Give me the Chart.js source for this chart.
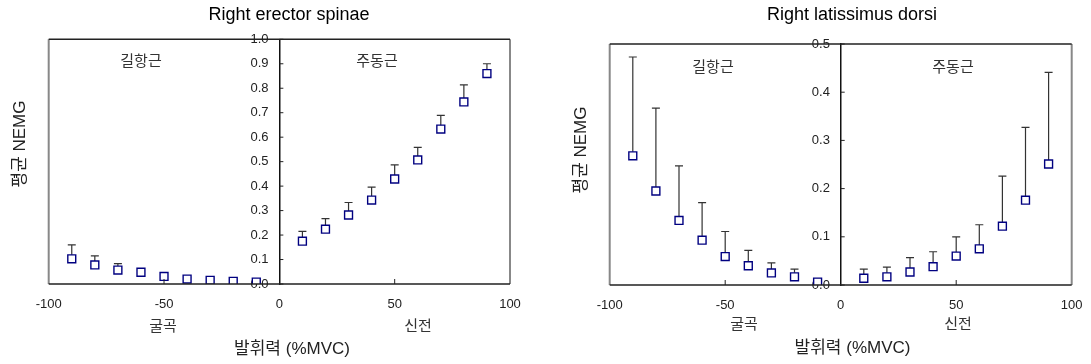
<!DOCTYPE html>
<html>
<head>
<meta charset="utf-8">
<script src="https://cdn.jsdelivr.net/npm/chart.js@4"></script>
<style>
  body { margin: 0; background: #fff; }
  #wrap { display: flex; width: 1091px; height: 364px; }
  canvas { display: block; }
</style>
</head>
<body>
<div id="wrap">
  <canvas id="es" width="545" height="364"></canvas>
  <canvas id="ld" width="546" height="364"></canvas>
</div>
<script>
// force levels (%MVC), flexion negative, extension positive
const force = [-90, -80, -70, -60, -50, -40, -30, -20, -10, 10, 20, 30, 40, 50, 60, 70, 80, 90];

// Right erector spinae: mean NEMG and mean + SD
const esMean  = [0.103, 0.078, 0.057, 0.048, 0.031, 0.020, 0.015, 0.011, 0.008, 0.175, 0.224, 0.282, 0.343, 0.429, 0.507, 0.633, 0.744, 0.860];
const esUpper = [0.160, 0.115, 0.083, 0.055, 0.040, 0.026, 0.020, 0.016, 0.012, 0.215, 0.267, 0.333, 0.396, 0.487, 0.558, 0.689, 0.814, 0.900];

// Right latissimus dorsi
const ldMean  = [0.268, 0.195, 0.134, 0.093, 0.059, 0.040, 0.025, 0.017, 0.006, 0.014, 0.017, 0.027, 0.038, 0.060, 0.075, 0.122, 0.176, 0.251];
const ldUpper = [0.473, 0.367, 0.247, 0.171, 0.111, 0.072, 0.046, 0.033, 0.012, 0.033, 0.037, 0.057, 0.069, 0.100, 0.125, 0.226, 0.327, 0.441];

const FONT = "'Liberation Sans', Arial, 'Noto Sans CJK KR', sans-serif";

// draws upper error bars under the markers
const errorBars = {
  id: "errorBars",
  beforeDatasetsDraw(chart, args, opts) {
    const { ctx, scales } = chart;
    const upper = opts.upper || [];
    const data = chart.data.datasets[0].data;
    ctx.save();
    ctx.strokeStyle = "#333";
    ctx.lineWidth = 1.2;
    for (let i = 0; i < data.length; i++) {
      const x = scales.x.getPixelForValue(data[i].x);
      const y0 = scales.y.getPixelForValue(data[i].y);
      const y1 = scales.y.getPixelForValue(upper[i]);
      ctx.beginPath();
      ctx.moveTo(x, y0);
      ctx.lineTo(x, y1);
      ctx.moveTo(x - 4, y1);
      ctx.lineTo(x + 4, y1);
      ctx.stroke();
    }
    ctx.restore();
  },
};

// frame, inward tick marks and all the loose text
const decor = {
  id: "decor",
  afterDraw(chart, args, o) {
    const { ctx, chartArea: a, scales } = chart;
    ctx.save();
    // frame
    ctx.strokeStyle = "#888";
    ctx.lineWidth = 2;
    ctx.beginPath();
    ctx.moveTo(a.left, a.top); ctx.lineTo(a.left, a.bottom);
    ctx.moveTo(a.right, a.top); ctx.lineTo(a.right, a.bottom);
    ctx.stroke();
    ctx.strokeStyle = "#222";
    ctx.lineWidth = 1.5;
    ctx.beginPath();
    ctx.moveTo(a.left, a.top); ctx.lineTo(a.right, a.top);
    ctx.moveTo(a.left, a.bottom); ctx.lineTo(a.right, a.bottom);
    ctx.stroke();
    // ticks
    const x0 = scales.x.getPixelForValue(0);
    ctx.lineWidth = 1;
    ctx.beginPath();
    scales.y.ticks.forEach(t => {
      const y = scales.y.getPixelForValue(t.value);
      ctx.moveTo(x0, y); ctx.lineTo(x0 + 4, y);
    });
    [-50, 50].forEach(v => {
      const x = scales.x.getPixelForValue(v);
      ctx.moveTo(x, a.bottom); ctx.lineTo(x, a.bottom - 5);
    });
    ctx.stroke();

    ctx.textAlign = "center";
    ctx.textBaseline = "middle";
    ctx.fillStyle = "#000";
    ctx.font = "18px " + FONT;
    ctx.fillText(o.title, o.titleX, 15);
    ctx.font = "17px " + FONT;
    ctx.fillStyle = "#222";
    ctx.fillText("발휘력 (%MVC)", o.xTitleX, o.xTitleY);
    ctx.font = "15px " + FONT;
    ctx.fillStyle = "#333";
    ctx.fillText("길항근", o.antX, o.subTop);
    ctx.fillText("주동근", o.agoX, o.subTop);
    ctx.fillText("굴곡", o.flexX, o.subBottom);
    ctx.fillText("신전", o.extX, o.subBottom);
    ctx.save();
    ctx.translate(o.yTitleX, o.yTitleY);
    ctx.rotate(-Math.PI / 2);
    ctx.font = "17px " + FONT;
    ctx.fillStyle = "#222";
    ctx.fillText("평균 NEMG", 0, 0);
    ctx.restore();
    ctx.restore();
  },
};

function makeChart(id, mean, upper, yMax, pad, xPad, texts) {
  const ctx = document.getElementById(id).getContext("2d");
  return new Chart(ctx, {
    type: "scatter",
    data: {
      datasets: [
        {
          data: force.map((f, i) => ({ x: f, y: mean[i] })),
          pointStyle: "rect",
          pointRadius: 5.6,
          pointHoverRadius: 5.6,
          pointBorderWidth: 1.4,
          borderColor: "#000080",
          backgroundColor: "#fff",
        },
      ],
    },
    options: {
      responsive: false,
      animation: false,
      events: [],
      layout: { padding: pad },
      plugins: {
        legend: { display: false },
        tooltip: { enabled: false },
        errorBars: { upper: upper },
        decor: texts,
      },
      scales: {
        x: {
          type: "linear",
          min: -100,
          max: 100,
          afterFit: (s) => { s.height = xPad.h; },
          grid: { display: false },
          border: { display: false },
          ticks: { stepSize: 50, padding: xPad.p, color: "#222", font: { size: 13, family: FONT } },
        },
        y: {
          position: { x: 0 },
          min: 0,
          max: yMax,
          grid: { display: false },
          border: { color: "#111", width: 1.5 },
          ticks: {
            stepSize: 0.1,
            color: "#222",
            font: { size: 13, family: FONT },
            callback: (v) => v.toFixed(1) + "   ",
          },
        },
      },
    },
    plugins: [errorBars, decor],
  });
}

makeChart("es", esMean, esUpper, 1.0,
  { left: 48.7, top: 39.3, right: 35, bottom: 0 }, { h: 80, p: 5 },
  { title: "Right erector spinae", titleX: 289, xTitleX: 292, xTitleY: 349,
    yTitleX: 20, yTitleY: 144, antX: 141, agoX: 377, subTop: 62,
    flexX: 163, extX: 418, subBottom: 327 });

makeChart("ld", ldMean, ldUpper, 0.5,
  { left: 64.7, top: 44, right: 19.3, bottom: 0 }, { h: 79, p: 5 },
  { title: "Right latissimus dorsi", titleX: 307, xTitleX: 307.5, xTitleY: 348,
    yTitleX: 36, yTitleY: 150, antX: 168, agoX: 408, subTop: 68,
    flexX: 199, extX: 413, subBottom: 325 });
</script>
</body>
</html>
